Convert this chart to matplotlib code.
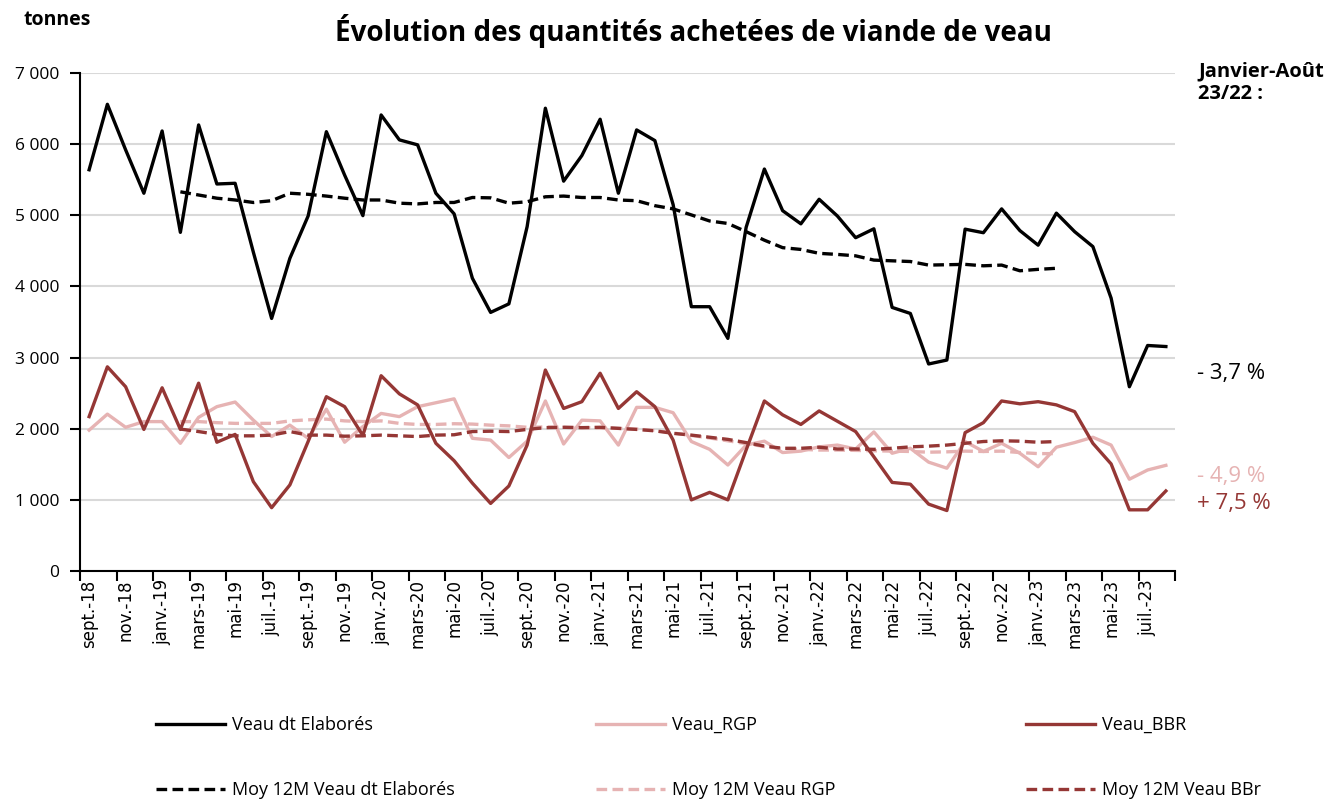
import numpy as np
import matplotlib.pyplot as plt
from matplotlib.ticker import FixedLocator, FuncFormatter

# ---- data (tonnes, sept.-18 -> août-23) ----
noms_mois = ['janv.', 'févr.', 'mars', 'avr.', 'mai', 'juin',
             'juil.', 'août', 'sept.', 'oct.', 'nov.', 'déc.']
mois = [noms_mois[(8 + i) % 12] + '-' + str(18 + (8 + i) // 12) for i in range(60)]

veau_elab = [5640, 6560, 5920, 5310, 6185, 4760, 6270, 5440, 5450, 4480,
             3550, 4395, 4990, 6175, 5565, 4995, 6410, 6060, 5990, 5310,
             5020, 4115, 3635, 3755, 4840, 6505, 5480, 5840, 6350, 5310,
             6200, 6050, 5150, 3715, 3715, 3270, 4830, 5650, 5065, 4880,
             5225, 4990, 4685, 4810, 3705, 3620, 2910, 2965, 4805, 4755,
             5090, 4785, 4580, 5030, 4770, 4560, 3835, 2590, 3170, 3155]

veau_rgp = [1980, 2205, 2020, 2100, 2100, 1795, 2160, 2310, 2375, 2120,
            1890, 2050, 1865, 2275, 1810, 2030, 2215, 2170, 2310, 2365,
            2420, 1865, 1840, 1595, 1825, 2390, 1785, 2120, 2110, 1770,
            2300, 2300, 2225, 1820, 1710, 1490, 1770, 1825, 1665, 1685,
            1745, 1770, 1715, 1955, 1655, 1725, 1530, 1445, 1820, 1680,
            1795, 1655, 1465, 1740, 1805, 1880, 1770, 1290, 1420, 1485]

veau_bbr = [2170, 2870, 2590, 1990, 2575, 1990, 2640, 1810, 1920, 1255,
            890, 1210, 1820, 2450, 2310, 1905, 2745, 2490, 2335, 1795,
            1550, 1235, 950, 1195, 1770, 2825, 2285, 2380, 2780, 2285,
            2520, 2310, 1840, 1000, 1105, 1000, 1700, 2390, 2195, 2060,
            2250, 2105, 1960, 1605, 1245, 1220, 940, 850, 1945, 2085,
            2390, 2350, 2380, 2335, 2240, 1795, 1505, 860, 860, 1125]

# moyennes mobiles 12 mois : févr.-19 -> févr.-23
debut_moy = 5
moy_elab = [5330, 5285, 5240, 5215, 5180, 5205, 5310, 5295, 5270, 5240,
            5215, 5215, 5170, 5160, 5180, 5180, 5250, 5245, 5170, 5190,
            5260, 5270, 5250, 5250, 5215, 5205, 5135, 5090, 5005, 4920,
            4885, 4770, 4650, 4545, 4520, 4465, 4450, 4430, 4370, 4360,
            4350, 4300, 4305, 4310, 4290, 4300, 4220, 4240, 4255]

moy_rgp = [2100, 2100, 2085, 2075, 2075, 2075, 2110, 2125, 2135, 2110,
           2100, 2110, 2075, 2060, 2060, 2070, 2065, 2050, 2040, 2020,
           2025, 2020, 2015, 2010, 2005, 1995, 1975, 1940, 1905, 1870,
           1830, 1790, 1750, 1720, 1710, 1700, 1700, 1695, 1690, 1685,
           1680, 1670, 1675, 1685, 1680, 1685, 1665, 1650, 1650]

moy_bbr = [1995, 1960, 1920, 1900, 1900, 1910, 1960, 1910, 1910, 1895,
           1900, 1910, 1900, 1890, 1910, 1915, 1960, 1965, 1960, 1990,
           2015, 2020, 2015, 2020, 2005, 1990, 1970, 1935, 1910, 1880,
           1850, 1805, 1755, 1725, 1725, 1740, 1715, 1715, 1710, 1725,
           1745, 1755, 1770, 1795, 1820, 1830, 1825, 1810, 1820]

evolutions = ['- 3,7 %', '- 4,9 %', '+ 7,5 %']
evol_y = [2770, 1335, 955]

c_noir = '#000000'
c_rose = '#E6B3B3'
c_rouge = '#953735'

plt.rcParams['font.family'] = ['Open Sans', 'DejaVu Sans']

fig = plt.figure(figsize=(13.33, 8.01), dpi=100)
ax = fig.add_axes([80 / 1333, 1 - 571 / 801, 1095 / 1333, 498 / 801])

x = np.arange(len(mois))
xm = np.arange(debut_moy, debut_moy + len(moy_elab))

lw = 2.4
dash = (0, (3.2, 1.6))
l1, = ax.plot(x, veau_elab, color=c_noir, lw=lw, label='Veau dt Elaborés', zorder=4)
l2, = ax.plot(x, veau_rgp, color=c_rose, lw=lw, label='Veau_RGP', zorder=2)
l3, = ax.plot(x, veau_bbr, color=c_rouge, lw=lw, label='Veau_BBR', zorder=3)
m1, = ax.plot(xm, moy_elab, color=c_noir, lw=lw, ls=dash, label='Moy 12M Veau dt Elaborés', zorder=4)
m2, = ax.plot(xm, moy_rgp, color=c_rose, lw=lw, ls=dash, label='Moy 12M Veau RGP', zorder=2)
m3, = ax.plot(xm, moy_bbr, color=c_rouge, lw=lw, ls=dash, label='Moy 12M Veau BBr', zorder=3)

ax.set_xlim(-0.5, len(mois) - 0.5)
ax.set_ylim(0, 7000)
ax.set_yticks(np.arange(0, 7001, 1000))
ax.yaxis.set_major_formatter(FuncFormatter(lambda v, p: f'{int(v):,}'.replace(',', ' ')))
ax.grid(axis='y', color='#D9D9D9', lw=1.5, zorder=0)
ax.set_axisbelow(True)

ax.set_xticks(x[::2])
ax.set_xticklabels(mois[::2], rotation=90, family='DejaVu Sans', fontsize=12)
ax.xaxis.set_minor_locator(FixedLocator(np.arange(-0.5, len(mois), 2)))
ax.tick_params(axis='x', which='major', length=0, pad=6)
ax.tick_params(axis='x', which='minor', length=7, width=1.5, color='black')
ax.tick_params(axis='y', length=7, width=1.5, labelsize=12.5, pad=8)

for s in ['top', 'right']:
    ax.spines[s].set_visible(False)
for s in ['left', 'bottom']:
    ax.spines[s].set_linewidth(1.5)

fig.text(24 / 1333, 1 - 20 / 801, 'tonnes', fontsize=14, fontweight='bold', va='center')
fig.text(693 / 1333, 1 - 31 / 801, 'Évolution des quantités achetées de viande de veau',
         fontsize=20, fontweight='bold', ha='center', va='center')
fig.text(1198 / 1333, 1 - 83 / 801, 'Janvier-Août\n23/22 :', fontsize=14.5,
         fontweight='bold', va='center', linespacing=1.15)

for txt, yv, col in zip(evolutions, evol_y, [c_noir, c_rose, c_rouge]):
    ax.annotate(txt, xy=(1, yv), xycoords=('axes fraction', 'data'),
                xytext=(22, 0), textcoords='offset pixels',
                fontsize=16, color=col, va='center', annotation_clip=False)

# legende en 3 colonnes
cols_x = [140, 580, 1010]
for cx, hs in zip(cols_x, [(l1, m1), (l2, m2), (l3, m3)]):
    fig.legend(handles=list(hs), loc='upper left',
               bbox_to_anchor=(cx / 1333, 1 - 700 / 801),
               frameon=False, fontsize=13, handlelength=3.8,
               handletextpad=0.4, labelspacing=2.6)

fig.savefig('out.png', dpi=100)
